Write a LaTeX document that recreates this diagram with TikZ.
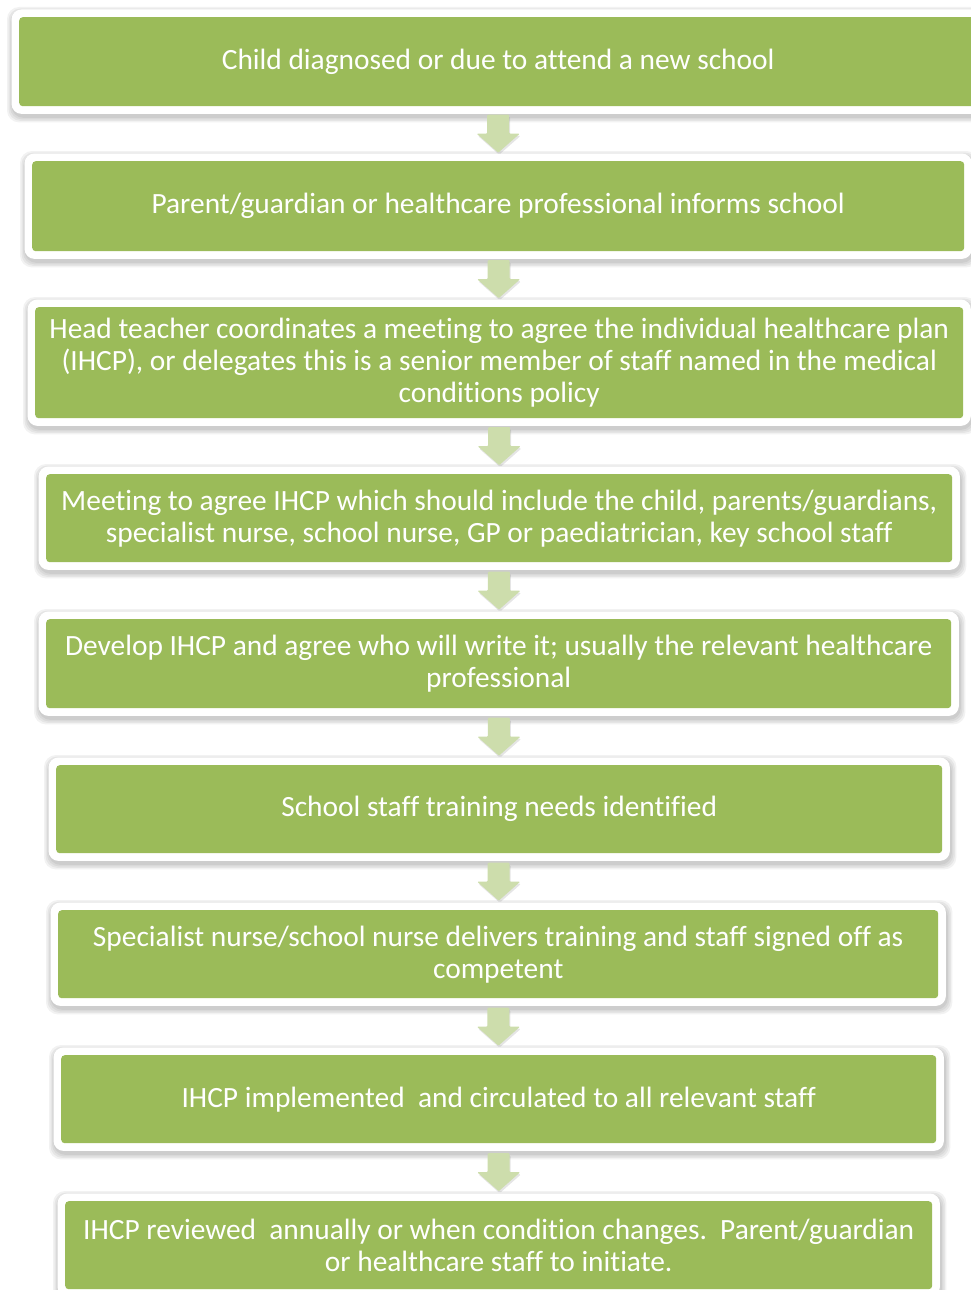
\documentclass[tikz,border=0pt]{standalone}
\usepackage{fontspec}
\setmainfont{Carlito}[Ligatures={NoCommon}]
\usetikzlibrary{backgrounds,calc}
\definecolor{olive}{HTML}{9BBB59}
\definecolor{olivelight}{HTML}{CDDDAC}
\tikzset{
  stepbox/.style={fill=olive, rounded corners=3.5pt, inner sep=0pt, align=center,
    text=white, font=\fontsize{29.4}{32}\selectfont, anchor=north west},
  framebox/.style={fill=white, rounded corners=10pt},
  shadowbox/.style={fill=black, opacity=0.05, rounded corners=12pt},
  blockarrow/.style={fill=olivelight, rounded corners=1pt},
  arrowshadow/.style={fill=black, opacity=0.10, rounded corners=1.5pt},
}
\begin{document}
\begin{tikzpicture}[x=1pt,y=1pt]
\path[use as bounding box, clip] (0,0) rectangle (971,-1290);

\node[stepbox, minimum width=958, minimum height=89] (b1) at (19,-17)
  {Child diagnosed or due to attend a new school};
\node[stepbox, minimum width=932, minimum height=90] (b2) at (32,-161)
  {Parent/guardian or healthcare professional informs school};
\node[stepbox, minimum width=928, minimum height=111] (b3) at (35,-307)
  {Head teacher coordinates a meeting to agree the individual healthcare plan\\
   (IHCP), or delegates this is a senior member of staff named in the medical\\
   conditions policy};
\node[stepbox, minimum width=906, minimum height=88] (b4) at (46,-474)
  {Meeting to agree IHCP which should include the child, parents/guardians,\\
   specialist nurse, school nurse, GP or paediatrician, key school staff};
\node[stepbox, minimum width=905, minimum height=89] (b5) at (46,-619)
  {Develop IHCP and agree who will write it; usually the relevant healthcare\\
   professional};
\node[stepbox, minimum width=886, minimum height=88] (b6) at (56,-765)
  {School staff training needs identified};
\node[stepbox, minimum width=880, minimum height=88] (b7) at (58,-910)
  {Specialist nurse/school nurse delivers training and staff signed off as\\
   competent};
\node[stepbox, minimum width=875, minimum height=88] (b8) at (61,-1055)
  {IHCP implemented\ \ and circulated to all relevant staff};
\node[stepbox, minimum width=867, minimum height=88] (b9) at (65,-1201)
  {IHCP reviewed\ \ annually or when condition changes.\ \ Parent/guardian\\
   or healthcare staff to initiate.};

\begin{scope}[on background layer]
  \fill[white] (0,0) rectangle (971,-1290);
  \foreach \i in {1,...,9} {
    \foreach \e in {0,1.5,3,4.5} {
      \fill[shadowbox] ([shift={(-8.5-\e+1,8.5+\e-3)}]b\i.north west)
        rectangle ([shift={(8.5+\e+1,-8.5-\e-3)}]b\i.south east);
    }
    \fill[framebox] ([shift={(-7.5,7.5)}]b\i.north west)
      rectangle ([shift={(7.5,-7.5)}]b\i.south east);
  }
\end{scope}

\foreach \i [evaluate=\i as \j using int(\i+1)] in {1,...,8} {
  \path (b\i.south) -- (b\j.north) coordinate[pos=0.5] (m\i);
  \fill[arrowshadow] ($(m\i)+(1,-2)$) ++(-11,19) -- ++(22,0) -- ++(0,-19)
    -- ++(10.5,0) -- ++(-21.5,-19) -- ++(-21.5,19) -- ++(10.5,0) -- cycle;
  \fill[blockarrow] (m\i) ++(-11,19) -- ++(22,0) -- ++(0,-19)
    -- ++(10.5,0) -- ++(-21.5,-19) -- ++(-21.5,19) -- ++(10.5,0) -- cycle;
}
\end{tikzpicture}
\end{document}
